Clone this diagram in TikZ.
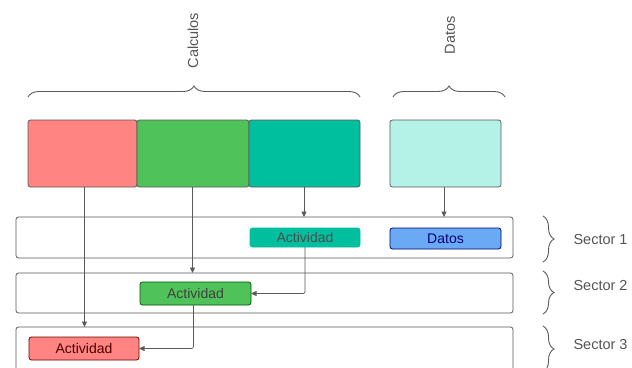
\documentclass[tikz,border=0pt]{standalone}
\usepackage{fontspec}
\setmainfont{Liberation Sans}
\usetikzlibrary{decorations.pathreplacing,arrows.meta}
\definecolor{edge}{HTML}{5A5A5A}
\definecolor{txt}{HTML}{555555}
\definecolor{redf}{HTML}{FF8482}
\definecolor{greenf}{HTML}{50C25A}
\definecolor{tealf}{HTML}{00BF9F}
\definecolor{lightf}{HTML}{B4F2E8}
\definecolor{bluef}{HTML}{6AAAF4}
\begin{document}
\begin{tikzpicture}[x=1pt,y=-1pt,
  box/.style={draw=edge, line width=0.8pt, rounded corners=2.5pt, anchor=north west,
    inner sep=0pt, outer sep=0pt},
  act/.style={box, font=\fontsize{14}{14}\selectfont},
  lane/.style={box, minimum width=497pt},
  link/.style={draw=edge, line width=0.7pt, rounded corners=2pt,
    -{Triangle[length=5.5pt,width=5pt]}},
  brace/.style={draw=edge, line width=0.9pt,
    decorate, decoration={brace, amplitude=11pt}},
  lbl/.style={text=txt, font=\fontsize{14.5}{15}\selectfont}]
\clip (0,0) rectangle (632,367);
\fill[white] (0,0) rectangle (632,367);

% upper blocks
\node[box, fill=redf,   minimum width=109pt, minimum height=67pt] (red)   at (28,120) {};
\node[box, fill=greenf, minimum width=112pt, minimum height=67pt] (green) at (137,120) {};
\node[box, fill=tealf,  minimum width=111pt, minimum height=67pt] (teal)  at (249,120) {};
\node[box, fill=lightf, minimum width=111pt, minimum height=67pt] (light) at (390,120) {};

% sector lanes
\node[lane, minimum height=41pt] (s1) at (16,217) {};
\node[lane, minimum height=40pt] (s2) at (16,273) {};
\node[lane, minimum height=60pt] (s3) at (16,327) {};

% activities
\node[act, fill=tealf, draw=tealf, text=black!70, minimum width=110pt, minimum height=19pt] (a1) at (250,228) {Actividad};
\node[act, fill=bluef, draw=blue!45!black, text=blue!45!black, minimum width=111pt, minimum height=21pt] (d1) at (390,228) {Datos};
\node[act, fill=greenf, draw=green!35!black, text=black!75, minimum width=111pt, minimum height=23pt] (a2) at (140,282) {Actividad};
\node[act, fill=redf, draw=red!45!black, text=red!30!black, minimum width=110pt, minimum height=23pt] (a3) at (29,337) {Actividad};

% links
\draw[link] ([xshift=2pt]red.south) -- ([xshift=2pt]red.south |- s3.north);
\draw[link] ([xshift=-0.5pt]green.south) -- ([xshift=-0.5pt]green.south |- s2.north);
\draw[link] ([xshift=-0.5pt]teal.south) -- ([xshift=-0.5pt]teal.south |- s1.north);
\draw[link] ([xshift=-1.5pt]light.south) -- ([xshift=-1.5pt]light.south |- s1.north);
\draw[link] (a1.south) |- (a2.east);
\draw[link] ([xshift=-2pt]a2.south) |- (a3.east);

% group braces
\draw[brace] (28,97) -- (360,97);
\draw[brace] (393,97) -- (505,97);
\node[lbl, rotate=90, anchor=west] (calc) at (193,72) {Calculos};
\node[lbl, rotate=90, anchor=west] (dat) at (450,58) {Datos};

% sector braces
\draw[brace] (543,216) -- (543,262);
\draw[brace] (543,271) -- (543,314);
\draw[brace] (543,326) -- (543,372);
\node[lbl, anchor=west] (l1) at (570,240) {Sector 1};
\node[lbl, anchor=west] (l2) at (570,286) {Sector 2};
\node[lbl, anchor=west] (l3) at (570,345) {Sector 3};
\end{tikzpicture}
\end{document}
